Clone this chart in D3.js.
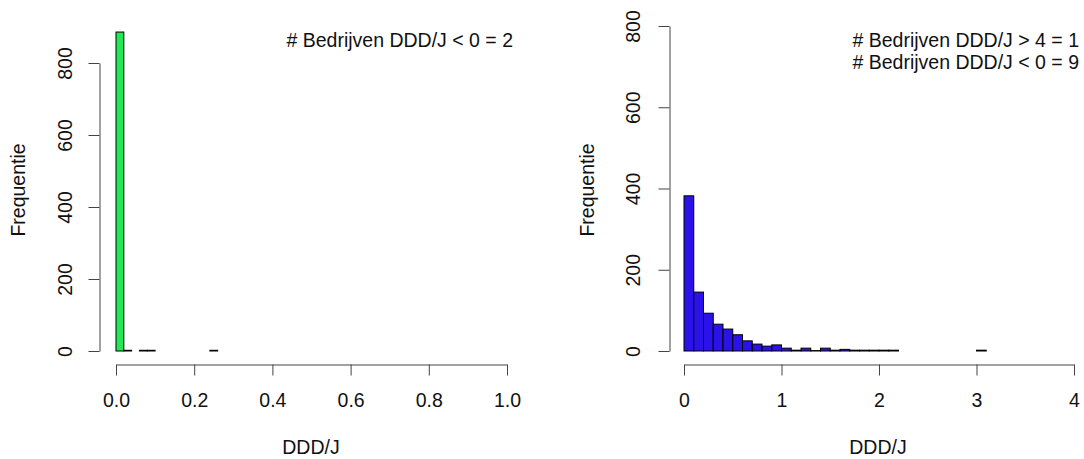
<!DOCTYPE html>
<html>
<head>
<meta charset="utf-8">
<script src="https://cdn.jsdelivr.net/npm/d3@7"></script>
<style>
  html, body { margin: 0; padding: 0; background: #fff; }
  svg { display: block; font-family: "Liberation Sans", Arial, sans-serif; }
</style>
</head>
<body>
<div id="chart"></div>
<script>
// histogram data
const leftBinWidth = 0.02
const leftCounts = [886, 2, 0, 2, 2, 0, 0, 0, 0, 0, 0, 0, 2]
const leftTicksX = [0, 0.2, 0.4, 0.6, 0.8, 1.0]
const leftNotes = ['# Bedrijven DDD/J < 0 = 2']

const rightBinWidth = 0.1
const rightCounts = [382, 145, 93, 66, 54, 40, 25, 17, 12, 15,
  7, 2, 7, 1, 7, 2, 4, 2, 2, 2, 2, 2,
  0, 0, 0, 0, 0, 0, 0, 0, 2, 0, 0]
const rightTicksX = [0, 1, 2, 3, 4]
const rightNotes = ['# Bedrijven DDD/J > 4 = 1', '# Bedrijven DDD/J < 0 = 9']

const ticksY = [0, 200, 400, 600, 800]

const W = 1084, H = 459
const FS = 19.5
const svg = d3.select('#chart').append('svg')
  .attr('width', W).attr('height', H)

function panel (opt) {
  const x = d3.scaleLinear().domain(opt.xDomain).range(opt.xRange)
  const y = d3.scaleLinear().domain([0, 800]).range(opt.yRange)
  const g = svg.append('g')

  const bins = opt.counts.map((c, i) => ({ x0: i * opt.binWidth, x1: (i + 1) * opt.binWidth, c }))
  g.append('g').selectAll('rect')
    .data(bins).join('rect')
    .attr('x', d => x(d.x0))
    .attr('width', d => x(d.x1) - x(d.x0))
    .attr('y', d => y(d.c))
    .attr('height', d => y(0) - y(d.c))
    .attr('fill', opt.color)
    .attr('stroke', '#000')
    .attr('stroke-width', 1)

  // x axis (R style: offset below the bars, spans first..last tick)
  const ax = g.append('g')
    .attr('transform', 'translate(0,' + opt.xAxisY + ')')
    .call(d3.axisBottom(x).tickValues(opt.ticksX).tickFormat(opt.fmt)
      .tickSize(11).tickSizeOuter(0).tickPadding(18))
  ax.select('.domain').attr('stroke', '#444')
  ax.selectAll('.tick line').attr('stroke', '#444')
  ax.selectAll('text').attr('font-size', FS).attr('fill', '#111')
    .attr('font-family', '"Liberation Sans", Arial, sans-serif')

  // y axis with rotated tick labels
  const ay = g.append('g')
    .attr('transform', 'translate(' + opt.yAxisX + ',0)')
    .call(d3.axisLeft(y).tickValues(ticksY).tickSize(11).tickSizeOuter(0))
  ay.select('.domain').attr('stroke', '#444')
  ay.selectAll('.tick line').attr('stroke', '#444')
  ay.selectAll('text')
    .attr('x', null)
    .attr('text-anchor', 'middle')
    .attr('transform', 'translate(' + opt.yLabelOff + ',0) rotate(-90)')
    .attr('dy', '0.35em')
    .attr('font-size', FS).attr('fill', '#111')
    .attr('font-family', '"Liberation Sans", Arial, sans-serif')

  g.append('text')
    .attr('transform', 'translate(' + opt.yTitleX + ',190) rotate(-90)')
    .attr('text-anchor', 'middle').attr('dy', '0.35em')
    .attr('font-size', FS).attr('fill', '#111')
    .text('Frequentie')

  g.append('text')
    .attr('x', opt.xTitleX).attr('y', 454)
    .attr('text-anchor', 'middle')
    .attr('font-size', FS).attr('fill', '#111')
    .text('DDD/J')

  g.append('g').selectAll('text')
    .data(opt.notes).join('text')
    .attr('x', opt.noteX)
    .attr('y', (d, i) => 47 + i * 22)
    .attr('text-anchor', 'end')
    .attr('font-size', FS).attr('fill', '#111')
    .text(d => d)
}

panel({
  counts: leftCounts, binWidth: leftBinWidth, color: '#22e855',
  xDomain: [0, 1], xRange: [116, 507], yRange: [351, 63],
  ticksX: leftTicksX, fmt: d3.format('.1f'),
  xAxisY: 364.5, yAxisX: 99.5, yLabelOff: -34.5, yTitleX: 18, xTitleX: 311,
  notes: leftNotes, noteX: 513
})

panel({
  counts: rightCounts, binWidth: rightBinWidth, color: '#2a12e8',
  xDomain: [0, 4], xRange: [684, 1074], yRange: [351, 26],
  ticksX: rightTicksX, fmt: d3.format('d'),
  xAxisY: 364.5, yAxisX: 669.5, yLabelOff: -36, yTitleX: 587, xTitleX: 878,
  notes: rightNotes, noteX: 1079
})
</script>
</body>
</html>
